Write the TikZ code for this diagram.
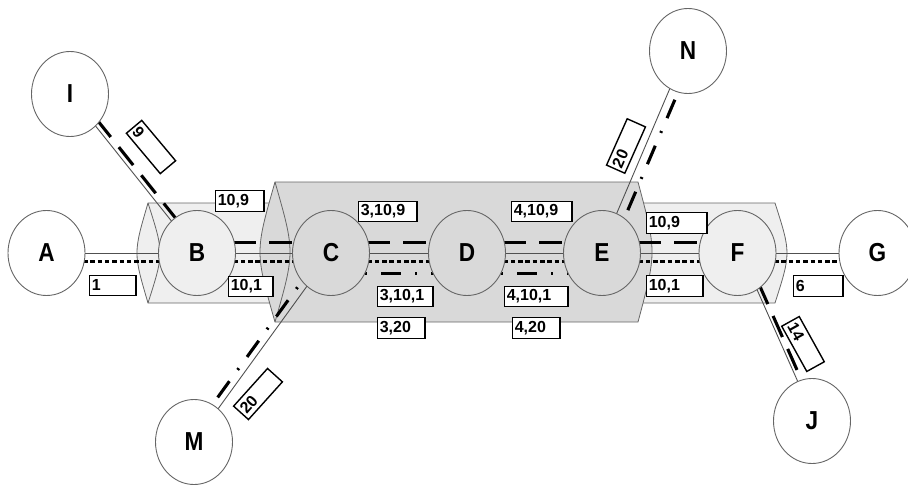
\documentclass[tikz,border=0pt]{standalone}
\usepackage{fontspec}
\setmainfont{Liberation Sans}
\usetikzlibrary{calc,shapes.geometric}
\pgfdeclarelayer{tubes}\pgfdeclarelayer{lines}
\pgfsetlayers{tubes,lines,main}
\definecolor{tubelight}{HTML}{EFEFEF}
\definecolor{tubedark}{HTML}{D9D9D9}
\definecolor{edgegray}{HTML}{666666}
\definecolor{thingray}{HTML}{505050}
\newcommand\lett[1]{\scalebox{0.87}[1]{\fontsize{26}{26}\selectfont\bfseries #1}}
\newcommand\pline[4][]{\draw[#1] ($(#2.center)!#4!90:(#3.center)$) -- ($(#3.center)!#4!-90:(#2.center)$);}
\begin{document}
\begin{tikzpicture}[x=1pt,y=-1pt,
  ball/.style={ellipse, draw=edgegray, line width=0.9pt, minimum width=77pt, minimum height=85pt, inner sep=0pt},
  thinline/.style={draw=thingray, line width=0.9pt},
  longdash/.style={line width=3.1pt, dash pattern=on 23pt off 13pt},
  dotline/.style={line width=3pt, dash pattern=on 4.5pt off 2.8pt},
  dashdot/.style={line width=3.1pt, dash pattern=on 20pt off 14pt on 2pt off 14pt},
  lbl/.style={draw=black, line width=1.6pt, fill=white, font=\fontsize{16}{16}\selectfont\bfseries, inner xsep=2.5pt, inner ysep=0pt, minimum height=20pt, align=left, anchor=north west, text width=#1},
  rlbl/.style={lbl=#1, anchor=center, line width=1.4pt},
  tube/.style={draw=edgegray, line width=0.8pt}
]
\useasboundingbox (0,0) rectangle (908,485);

% nodes
\node[ball, fill=white] (I) at (70,94) {\lett{I}};
\node[ball, fill=white] (A) at (46.5,253) {\lett{A}};
\node[ball, fill=tubelight] (B) at (197,253) {\lett{B}};
\node[ball, fill=tubedark] (C) at (331,253) {\lett{C}};
\node[ball, fill=tubedark] (D) at (467,253) {\lett{D}};
\node[ball, fill=tubedark] (E) at (602,253) {\lett{E}};
\node[ball, fill=tubelight] (F) at (737.5,253) {\lett{F}};
\node[ball, fill=white] (G) at (877.5,253) {\lett{G}};
\node[ball, fill=white] (N) at (688,51) {\lett{N}};
\node[ball, fill=white] (M) at (194,442) {\lett{M}};
\node[ball, fill=white] (J) at (812,421) {\lett{J}};

% tubes
\begin{pgfonlayer}{tubes}
\filldraw[tube, fill=tubelight] (148,203) -- (775,203) .. controls (791,253) .. (775,303) -- (148,303) .. controls (133.3,253) .. (148,203) -- cycle;
\draw[tube] (148,203) .. controls (164,253) .. (148,303);
\filldraw[tube, fill=tubedark] (275,182) -- (638,182) .. controls (656.7,252) .. (638,322) -- (275,322) .. controls (255,252) .. (275,182) -- cycle;
\draw[tube] (275,182) .. controls (295,252) .. (275,322);
\end{pgfonlayer}

% connectors
\begin{pgfonlayer}{lines}
\pline[thinline]{A}{B}{0pt}
\pline[dotline]{A}{B}{-8pt}
\pline[thinline]{B}{C}{0pt}
\pline[longdash]{B}{C}{10.5pt}
\pline[dotline]{B}{C}{-8pt}
\pline[thinline]{C}{D}{0pt}
\pline[longdash]{C}{D}{10.5pt}
\pline[dotline]{C}{D}{-8pt}
\pline[dashdot]{C}{D}{-20.5pt}
\pline[thinline]{D}{E}{0pt}
\pline[longdash]{D}{E}{10.5pt}
\pline[dotline]{D}{E}{-8pt}
\pline[dashdot]{D}{E}{-20.5pt}
\pline[thinline]{E}{F}{0pt}
\pline[longdash]{E}{F}{10.5pt}
\pline[dotline]{E}{F}{-8pt}
\pline[thinline]{F}{G}{0pt}
\pline[dotline]{F}{G}{-8pt}
\pline[thinline]{I}{B}{0pt}
\pline[longdash]{I}{B}{5pt}
\pline[thinline]{M}{C}{0pt}
\pline[dashdot]{M}{C}{7pt}
\pline[thinline]{N}{E}{-2pt}
\pline[dashdot]{N}{E}{7pt}
\pline[thinline]{F}{J}{3pt}
\pline[longdash]{F}{J}{7pt}
\end{pgfonlayer}

% labels
\node[lbl=41.7pt] (l1) at (88.5,274.5) {1};
\node[lbl=43.7pt, minimum height=21pt] (lbc9) at (214.5,189.5) {10,9};
\node[lbl=39.7pt] (lbc1) at (227.5,275.5) {10,1};
\node[lbl=53.7pt] (lcd9) at (357.5,200.5) {3,10,9};
\node[lbl=50.7pt] (lcd1) at (376.5,285.5) {3,10,1};
\node[lbl=42.7pt, minimum height=21pt] (lcd20) at (376.5,316.5) {3,20};
\node[lbl=55.7pt] (lde9) at (510.5,200.5) {4,10,9};
\node[lbl=58.7pt] (lde1) at (503.5,285.5) {4,10,1};
\node[lbl=42.7pt, minimum height=21pt] (lde20) at (511.5,316.5) {4,20};
\node[lbl=55.7pt, minimum height=21pt] (lef9) at (645.5,211.5) {10,9};
\node[lbl=51.7pt, minimum height=21pt] (lef1) at (645.5,274.5) {10,1};
\node[lbl=44.7pt, minimum height=21pt] (lfg) at (792.5,274.5) {6};
\node[rlbl=47.7pt, rotate=-50] (lib) at (151,147) {9};
\node[rlbl=45.7pt, rotate=66] (lne) at (626,146) {20};
\node[rlbl=45.7pt, rotate=48] (lmc) at (258,394) {20};
\node[rlbl=46.7pt, rotate=-61] (lfj) at (803,344) {14};
\end{tikzpicture}
\end{document}
